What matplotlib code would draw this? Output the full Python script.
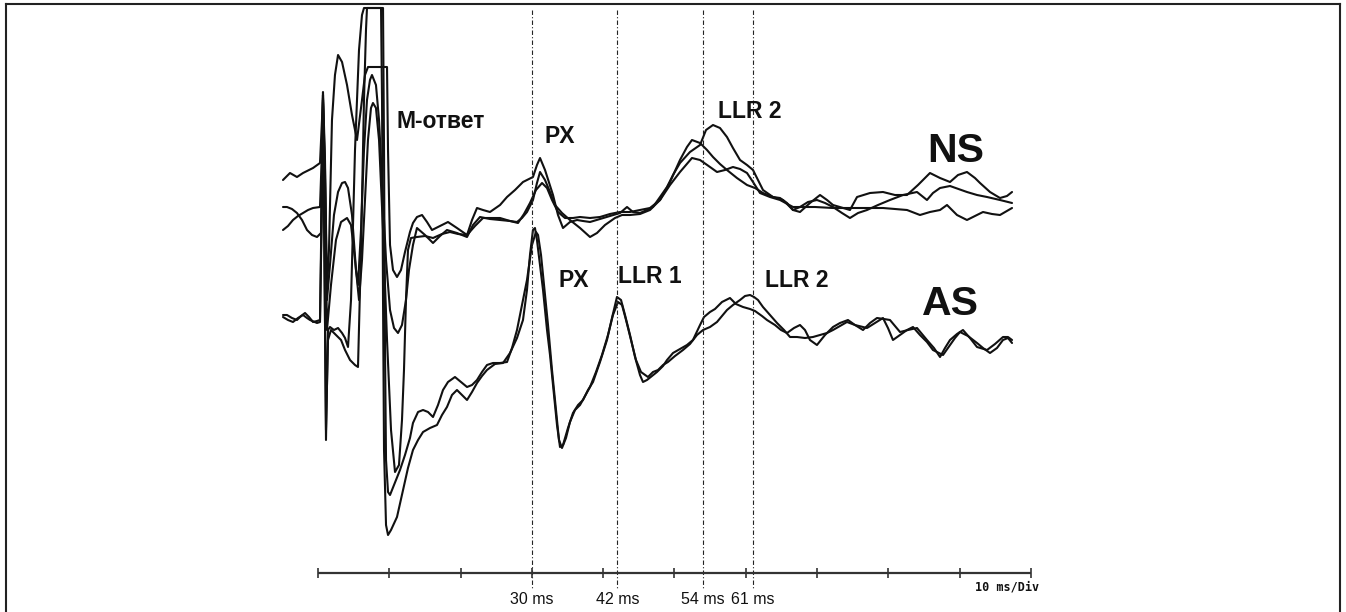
import matplotlib
matplotlib.use("Agg")
import matplotlib.pyplot as plt
from matplotlib.lines import Line2D

# ---------------- data: time (ms) and amplitude (a.u.) ----------------
NS1_T = [-4.91, -3.93, -2.95, -2.10, -0.70, 0.28, 0.56, 0.70, 0.98, 1.26, 1.54, 1.96, 2.38, 2.81, 3.37, 4.07,
         4.77, 5.47, 6.17, 6.59, 7.01, 9.68, 9.82, 10.10, 10.52, 11.08, 11.64, 12.20, 12.90, 13.32, 13.88,
         14.59, 15.29, 15.99, 17.11, 18.23, 19.49, 20.90, 21.60, 22.30, 23.14, 24.12, 25.53, 26.51, 27.63,
         28.75, 30.15, 30.71, 31.14, 31.84, 32.96, 33.66, 34.36, 35.34, 36.33, 37.17, 38.15, 39.55, 40.95,
         42.36, 43.34, 44.18, 45.16, 46.14, 46.98, 47.97, 48.95, 49.79, 50.77, 52.17, 53.58, 54.42, 55.40,
         56.38, 57.36, 58.20, 59.19, 60.17, 61.01, 61.71, 62.41, 63.81, 64.80, 65.78, 66.62, 67.60, 69.00,
         70.41, 71.39, 72.23, 74.61, 75.60, 77.42, 79.24, 80.92, 82.61, 84.15, 85.83, 87.24, 88.64, 89.76,
         91.02, 92.14, 92.85, 94.25, 95.65, 96.63, 97.34]
NS1_A = [35, 42, 38, 42, 47, 52, 95, 123, 55, -75, -35, 95, 140, 160, 153, 130,
         100, 75, 115, 140, 148, 148, 65, -30, -55, -62, -55, -37, -17, -8, -2,
         0, -7, -15, -11, -7, -13, -20, -5, 7, 5, 3, 10, 18, 25,
         33, 38, 50, 57, 45, 20, 0, -13, -7, -5, -6, -7, -4, -1,
         2, 8, 3, 2, 5, 8, 18, 28, 40, 52, 63, 70, 85, 90,
         87, 78, 67, 55, 50, 45, 35, 25, 18, 17, 12, 5, 3, 12,
         20, 15, 10, 5, 18, 22, 23, 20, 20, 30, 42, 37, 33, 40,
         43, 37, 32, 23, 17, 19, 23]

NS2_T = [-4.91, -4.35, -3.65, -2.95, -2.24, -1.54, -0.84, -0.14, 0.42, 0.70, 0.98, 1.26, 1.68, 2.24, 2.81,
         3.37, 3.79, 4.21, 4.77, 5.33, 5.61, 6.03, 6.45, 6.87, 7.29, 7.57, 8.13, 8.56, 8.98, 9.54, 10.10,
         10.66, 11.22, 11.78, 12.34, 12.76, 13.32, 13.88, 15.01, 16.13, 17.11, 18.09, 19.49, 20.90, 21.74,
         22.72, 24.12, 25.53, 26.93, 27.91, 28.61, 29.31, 30.15, 30.71, 31.14, 31.84, 32.54, 33.24, 34.22,
         35.34, 36.75, 38.15, 39.13, 40.25, 41.65, 42.64, 43.76, 45.16, 46.56, 47.97, 49.37, 50.77, 51.75,
         52.45, 53.58, 54.56, 55.40, 56.38, 57.36, 58.76, 60.17, 61.29, 62.41, 63.81, 65.22, 66.62, 67.60,
         68.72, 69.98, 71.11, 72.23, 73.49, 74.61, 75.74, 77.00, 78.54, 80.22, 82.05, 84.01, 85.41, 86.25,
         87.24, 88.64, 91.02, 92.43, 93.83, 95.65, 97.34]
NS2_A = [8, 8, 6, 2, -5, -15, -20, -22, -18, 117, 45, -85, -50, 0, 23,
         32, 33, 27, 0, -55, -70, -15, 65, 115, 135, 140, 130, 95, 35, -45, -95,
         -113, -118, -110, -85, -55, -30, -13, -20, -28, -21, -15, -18, -22, -10,
         -2, -4, -5, -6, -7, -3, 3, 15, 32, 43, 35, 23, 10, 2,
         -5, -13, -22, -18, -10, -3, 0, 0, 1, 5, 15, 33, 55, 68,
         75, 72, 65, 58, 51, 45, 37, 30, 27, 22, 18, 15, 5, 8,
         13, 15, 12, 8, 2, -3, 2, 5, 10, 15, 20, 23, 15, 22,
         27, 29, 23, 20, 18, 15, 12]

NS3_T = [-4.91, -4.21, -3.51, -2.81, -2.10, -1.40, -0.70, 0.28, 0.56, 0.70, 0.98, 1.26, 1.82, 2.52, 3.23,
         4.07, 4.63, 5.19, 5.75, 6.17, 6.59, 7.01, 7.43, 7.71, 8.13, 8.56, 9.12, 9.68, 10.24, 10.80, 11.36,
         11.78, 12.06, 12.34, 12.62, 13.04, 13.88, 15.01, 16.13, 17.39, 18.51, 19.64, 20.90, 22.02, 23.14,
         25.53, 26.93, 28.05, 28.89, 29.73, 30.57, 31.42, 32.12, 32.82, 33.66, 34.64, 35.76, 36.75, 38.15,
         39.55, 40.95, 42.36, 43.76, 45.16, 46.56, 47.97, 49.37, 50.77, 52.45, 53.58, 54.98, 55.96, 57.08,
         58.20, 59.19, 60.17, 61.01, 61.99, 63.39, 64.80, 66.62, 67.60, 69.70, 72.23, 74.61, 77.00, 79.24,
         82.61, 84.43, 85.83, 87.24, 88.22, 89.62, 91.02, 92.14, 93.27, 94.53, 95.65, 97.34]
NS3_A = [-15, -11, -5, -1, 2, 5, 7, 8, 65, 113, 35, -115, -70, -25, -7,
         -3, -10, -45, -85, -45, 15, 75, 107, 112, 107, 75, -15, -125, -215, -257, -250,
         -205, -155, -85, -35, -23, -22, -21, -23, -19, -17, -19, -20, -11, -3,
         -3, -6, -8, 1, 12, 25, 32, 27, 15, 3, -3, -3, -2, -3,
         -2, 1, 3, 3, 5, 7, 15, 30, 43, 57, 55, 48, 43, 45,
         48, 46, 42, 33, 22, 18, 15, 8, 8, 8, 7, 7, 7, 7,
         5, 0, 3, 5, 10, 0, -5, -1, 3, 1, 0, 7]

AS1_T = [-4.91, -4.21, -3.51, -2.81, -2.10, -1.54, -1.12, -0.14, 0.28, 0.56, 0.70, 0.84, 1.12, 1.40, 1.68,
         2.24, 2.81, 3.37, 3.79, 4.21, 4.63, 5.19, 5.75, 6.17, 6.45, 8.84, 8.98, 9.12, 9.26, 9.54, 9.82,
         10.24, 11.08, 11.92, 12.62, 13.32, 14.03, 14.73, 15.71, 16.69, 17.39, 18.09, 18.79, 19.49, 20.20,
         20.90, 21.60, 22.30, 23.00, 23.70, 24.82, 25.95, 26.93, 27.91, 28.75, 29.31, 29.73, 30.15, 30.43,
         30.71, 31.14, 31.56, 32.12, 32.54, 33.10, 33.52, 33.94, 34.36, 35.06, 35.76, 36.47, 37.17, 37.87,
         38.57, 39.55, 40.53, 41.23, 41.93, 42.50, 43.06, 43.76, 44.46, 45.16, 45.58, 46.14, 46.84, 47.54,
         48.39, 48.95, 49.79, 50.77, 51.75, 52.59, 53.58, 54.14, 54.98, 55.68, 56.66, 57.78, 58.62, 59.61,
         60.59, 61.29, 62.27, 62.97, 64.09, 64.94, 65.78, 66.76, 67.60, 68.30, 69.00, 69.98, 71.11, 72.23,
         73.21, 74.33, 75.31, 76.44, 77.42, 78.40, 79.38, 80.22, 80.92, 81.63, 82.75, 84.01, 84.71, 85.41,
         86.39, 87.24, 87.94, 88.64, 89.62, 90.46, 91.44, 92.43, 93.83, 94.95, 96.07, 96.77, 97.34]
AS1_A = [3, 0, -2, 2, 5, 2, 0, -3, -2, 120, 225, 120, -120, -10, -7,
         -10, -8, -13, -18, -27, 20, 170, 270, 305, 312, 312, 220, 20, -130, -205, -215,
         -210, -197, -170, -148, -130, -120, -112, -108, -105, -95, -87, -75, -70, -75,
         -80, -72, -63, -56, -50, -44, -43, -33, -18, 0, 30, 65, 90, 92,
         80, 55, 30, -10, -35, -75, -105, -127, -125, -108, -93, -85, -80, -70,
         -62, -42, -20, 2, 23, 20, 5, -15, -37, -55, -62, -60, -56, -52,
         -46, -40, -33, -29, -25, -20, -5, 3, 8, 11, 18, 22, 16, 13,
         11, 9, 4, 0, -5, -10, -13, -8, -5, -10, -20, -25, -15, -7,
         -3, 0, -5, -10, -3, 2, 1, 0, -6, -12, -10, -8, -14, -20,
         -28, -37, -28, -20, -14, -10, -18, -27, -30, -24, -17, -17, -20]

AS2_T = [-4.91, -4.35, -3.65, -2.95, -2.38, -1.82, -1.26, -0.70, -0.14, 0.28, 0.56, 0.70, 0.84, 1.12, 1.40,
         1.82, 2.52, 3.23, 3.79, 4.49, 5.19, 5.61, 6.03, 6.45, 6.73, 6.87, 9.12, 9.26, 9.40, 9.54, 9.82,
         10.10, 10.66, 11.50, 12.20, 12.90, 13.32, 14.03, 14.73, 15.43, 16.13, 16.83, 17.53, 18.23, 19.21,
         20.06, 20.90, 21.60, 22.30, 23.00, 23.70, 24.54, 25.53, 26.51, 27.21, 27.91, 28.61, 29.31, 30.01,
         30.57, 30.86, 31.28, 31.70, 32.26, 32.82, 33.38, 33.80, 34.22, 34.78, 35.34, 36.04, 36.75, 37.45,
         38.15, 38.99, 39.83, 40.67, 41.37, 42.08, 42.64, 43.20, 43.90, 44.60, 45.30, 46.28, 46.98, 47.69,
         48.39, 49.08, 50.07, 51.19, 52.17, 53.15, 54.00, 54.98, 55.96, 56.66, 57.36, 58.20, 59.19, 59.89,
         60.59, 61.15, 61.71, 62.41, 63.39, 64.38, 65.36, 66.20, 67.18, 68.30, 69.42, 70.41, 71.39, 72.23,
         73.21, 74.19, 75.31, 77.00, 78.12, 79.24, 79.94, 80.64, 81.63, 82.61, 83.45, 84.43, 85.41, 86.25,
         87.66, 88.64, 89.34, 90.04, 91.16, 92.43, 93.27, 94.25, 95.23, 96.07, 96.77, 97.34]
AS2_A = [5, 5, 2, 0, 4, 7, 3, -2, -1, 0, 140, 220, 110, -110, -20,
         -10, -15, -20, -30, -40, -45, -47, 70, 220, 290, 312, 312, 170, -30, -140, -172,
         -175, -165, -150, -135, -118, -103, -92, -90, -92, -97, -85, -70, -62, -57,
         -62, -67, -65, -60, -52, -45, -43, -43, -42, -28, -10, 15, 40, 75,
         88, 85, 65, 35, -5, -50, -90, -120, -128, -118, -102, -90, -85, -76,
         -67, -52, -35, -15, 5, 18, 15, 0, -20, -40, -52, -57, -52, -50,
         -45, -42, -36, -30, -24, -15, -10, -7, -2, 4, 10, 15, 20, 24,
         25, 23, 20, 13, 5, -3, -10, -17, -17, -18, -17, -15, -13, -10,
         -6, -2, -5, -8, -3, 2, -8, -20, -15, -10, -7, -15, -22, -30,
         -35, -25, -18, -12, -16, -23, -28, -33, -28, -20, -18, -23]

MARK_TIMES = [30, 42, 54, 61]
MARK_LABELS = ["30 ms", "42 ms", "54 ms", "61 ms"]
TICK_TIMES = [0, 10, 20, 30, 40, 50, 60, 70, 80, 90, 100]
SCALE_LABEL = "10 ms/Div"

# ---------------- layout (pixels) ----------------
W, H, DPI = 1346, 612, 100
T0_PX, PX_PER_MS = 318, 7.13
NS_BASE, AS_BASE = 215, 320
AXIS_Y = 573

fig = plt.figure(figsize=(W / DPI, H / DPI), dpi=DPI, facecolor="white")
ax = fig.add_axes([0, 0, 1, 1])
ax.set_xlim(-T0_PX / PX_PER_MS, (W - T0_PX) / PX_PER_MS)
ax.set_ylim(H, 0)
ax.axis("off")

lw = 1.5
for T, A in [(NS1_T, NS1_A), (NS2_T, NS2_A), (NS3_T, NS3_A)]:
    ax.plot(T, [NS_BASE - a for a in A], color="#111111", lw=lw,
            solid_joinstyle="round", solid_capstyle="round")
for T, A in [(AS1_T, AS1_A), (AS2_T, AS2_A)]:
    ax.plot(T, [AS_BASE - a for a in A], color="#111111", lw=lw,
            solid_joinstyle="round", solid_capstyle="round")

# marker lines
ax.vlines(MARK_TIMES, 10, 588, colors="#222222", linewidth=0.8, linestyles=(0, (4, 2, 1, 2)))

# time axis
ax.hlines(AXIS_Y, TICK_TIMES[0], TICK_TIMES[-1], colors="#333333", linewidth=1.6)
ax.vlines(TICK_TIMES, AXIS_Y - 5, AXIS_Y + 5, colors="#333333", linewidth=1.2)

narrow = ["Liberation Sans Narrow", "Liberation Sans"]
for t, lab in zip(MARK_TIMES, MARK_LABELS):
    ax.text(t, 604, lab, ha="center", va="baseline", fontsize=11.5, family=narrow, color="#111111")


def fx(px):
    return px / W


def fy(py):
    return 1 - py / H


bold = dict(family=["Liberation Sans", "DejaVu Sans"], fontweight="bold", color="#111111",
            va="baseline", ha="left")
fig.text(fx(397), fy(128), "M-ответ", fontsize=16.5, **bold)
fig.text(fx(545), fy(143), "PX", fontsize=16.5, **bold)
fig.text(fx(718), fy(118), "LLR 2", fontsize=16.5, **bold)
fig.text(fx(558), fy(287), "PX", fontsize=16.5, **bold)
fig.text(fx(618), fy(283), "LLR 1", fontsize=16.5, **bold)
fig.text(fx(765), fy(287), "LLR 2", fontsize=16.5, **bold)
fig.text(fx(927), fy(162), "NS", fontsize=29.5, **bold)
fig.text(fx(922), fy(315), "AS", fontsize=29.5, **bold)
fig.text(fx(975), fy(590), SCALE_LABEL, fontsize=8.5, family="DejaVu Sans Mono",
         fontweight="bold", color="#111111", va="baseline", ha="left")

# frame (left, top, right)
for xs, ys in [([6, 6], [4, H]), ([6, 1340], [4, 4]), ([1340, 1340], [4, H])]:
    fig.add_artist(Line2D([fx(x) for x in xs], [fy(y) for y in ys], color="#222222", lw=1.5,
                          transform=fig.transFigure))

fig.savefig("out.png", dpi=DPI, facecolor="white")
